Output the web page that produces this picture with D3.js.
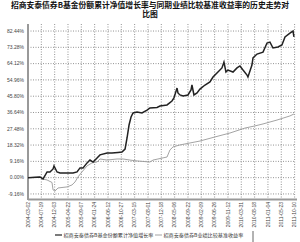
<!DOCTYPE html>
<html>
<head>
<meta charset="utf-8">
<script src="https://cdn.jsdelivr.net/npm/d3@7"></script>
<style>
  body { margin: 0; background: #fff; }
  svg { display: block; }
</style>
</head>
<body>
<svg width="300" height="242"></svg>
<script>
"use strict";

// time index (0..20 = tick positions) and cumulative return in %
const fundT = [0, 0.9, 1.13, 1.43, 1.65, 1.88, 1.95, 2.18, 2.4, 3.38, 3.68, 3.9, 4.13, 4.43, 4.65, 4.88, 5.18, 5.4, 5.93, 6.3, 6.75, 7.05, 7.28, 7.43, 7.58, 7.73, 7.88, 8.18, 8.55, 8.93, 9.15, 9.68, 9.9, 10.43, 10.8, 10.95, 11.18, 11.25, 11.4, 11.63, 12.0, 12.23, 12.3, 12.45, 12.68, 12.9, 13.28, 13.65, 13.88, 14.25, 14.55, 14.7, 14.85, 15.0, 15.38, 15.68, 15.9, 16.13, 16.43, 16.5, 16.8, 16.88, 17.18, 17.63, 17.93, 18.15, 18.38, 18.75, 19.05, 19.28, 19.65, 19.88, 19.95];
const fundV = [0, 0.4, -0.7, 3.2, 3.2, 4.9, 6.6, 3.2, 2.6, 2.6, 3.2, 5.5, 5.5, 8.3, 9.9, 8.8, 11.1, 12.8, 13.9, 13.9, 14.2, 14.4, 16.1, 22.3, 29.6, 34.1, 36.4, 36.9, 36.4, 38.0, 39.2, 39.5, 40.3, 40.9, 43.1, 44.8, 50.4, 47.6, 46.5, 45.9, 46.5, 49.3, 52.1, 46.5, 47.6, 49.8, 52.1, 53.8, 56.6, 59.4, 61.7, 65.0, 59.4, 60.5, 59.4, 61.7, 62.8, 60.5, 57.7, 56.6, 63.3, 67.3, 69.5, 70.6, 75.7, 76.2, 72.9, 73.5, 74.6, 79.1, 81.3, 82.4, 79.1];

const benchT = [0, 0.9, 1.05, 1.43, 1.8, 1.88, 2.03, 2.25, 2.93, 3.3, 3.53, 3.75, 4.05, 4.43, 4.8, 5.18, 5.4, 5.93, 6.68, 7.13, 7.65, 8.18, 9.15, 9.38, 10.43, 10.65, 10.88, 11.4, 12.15, 12.9, 14.03, 15.15, 16.28, 17.03, 17.63, 18.68, 19.65, 19.95];
const benchV = [0, 0.4, -0.7, -1.3, -2.7, -6.9, -7.5, -5.8, -5.2, -4.1, -2.4, 0.4, 3.2, 6.6, 8.3, 8.8, 10.5, 9.9, 10.5, 10.5, 9.9, 9.4, 8.8, 9.9, 11.6, 15.6, 17.3, 18.4, 19.5, 20.6, 22.9, 25.1, 27.9, 29.1, 30.2, 32.4, 34.7, 35.8];

const xLabels = ["2004-03-02", "2004-07-19", "2004-12-03", "2005-04-22", "2005-09-07", "2006-01-24", "2006-06-12", "2006-10-27", "2007-03-15", "2007-08-01", "2007-12-18", "2008-05-06", "2008-09-22", "2009-02-09", "2009-06-26", "2009-11-12", "2010-03-31", "2010-08-18", "2011-01-04", "2011-05-23", "2011-10-10"];
const yTicks = [-9.16, 0, 9.16, 18.32, 27.48, 36.64, 45.80, 54.96, 64.12, 73.28, 82.44];

const titleLines = ["招商安泰债券B基金份额累计净值增长率与同期业绩比较基准收益率的历史走势对", "比图"];
const legendNames = ["招商安泰债券B基金份额累计净值增长率", "招商安泰债券B业绩比较基准收益率"];

const svg = d3.select("svg");
const plotL = 28, plotR = 294.6, plotT = 24, plotB = 199;

const x = d3.scaleLinear().domain([0, 20]).range([plotL, plotR]);
const y = d3.scaleLinear().domain([-12, 86.4]).range([plotB, plotT]);

// title
svg.selectAll(".title")
    .data(titleLines)
    .enter().append("text")
    .attr("x", 150)
    .attr("y", (d, i) => 7.5 + i * 9.5)
    .attr("text-anchor", "middle")
    .attr("font-family", "Noto Sans CJK SC")
    .attr("font-size", 7.8)
    .attr("font-weight", "bold")
    .attr("fill", "#111")
    .text(d => d);

// grid
svg.selectAll(".hgrid")
    .data(yTicks)
    .enter().append("line")
    .attr("x1", plotL).attr("x2", plotR)
    .attr("y1", d => y(d)).attr("y2", d => y(d))
    .attr("stroke", "#777").attr("stroke-width", 0.8)
    .attr("stroke-dasharray", "1,1.5");

svg.selectAll(".vgrid")
    .data(d3.range(1, xLabels.length))
    .enter().append("line")
    .attr("x1", d => x(d)).attr("x2", d => x(d))
    .attr("y1", plotT).attr("y2", plotB)
    .attr("stroke", "#777").attr("stroke-width", 0.8)
    .attr("stroke-dasharray", "1,1.5");

// axes
svg.append("line")
    .attr("x1", plotL).attr("x2", plotL).attr("y1", plotT).attr("y2", plotB + 1)
    .attr("stroke", "#999").attr("stroke-width", 2);
svg.append("line")
    .attr("x1", plotL).attr("x2", 297).attr("y1", plotB + 0.5).attr("y2", plotB + 0.5)
    .attr("stroke", "#999").attr("stroke-width", 2);

// y labels
svg.selectAll(".ylab")
    .data(yTicks)
    .enter().append("text")
    .attr("x", 24)
    .attr("y", d => y(d) + 1.8)
    .attr("text-anchor", "end")
    .attr("font-family", "Liberation Sans")
    .attr("font-size", 5)
    .attr("fill", "#444")
    .text(d => d.toFixed(2) + "%");

// x labels
svg.selectAll(".xlab")
    .data(xLabels)
    .enter().append("text")
    .attr("transform", (d, i) => `translate(${x(i) + 1.8},${plotB + 3}) rotate(-90)`)
    .attr("text-anchor", "end")
    .attr("font-family", "Liberation Sans")
    .attr("font-size", 5)
    .attr("fill", "#444")
    .text(d => d);

// series
const line = d3.line().x(d => x(d[0])).y(d => y(d[1]));

svg.append("path")
    .datum(d3.zip(benchT, benchV))
    .attr("d", line)
    .attr("fill", "none")
    .attr("stroke", "#999")
    .attr("stroke-width", 0.9);

svg.append("path")
    .datum(d3.zip(fundT, fundV))
    .attr("d", line)
    .attr("fill", "none")
    .attr("stroke", "#222")
    .attr("stroke-width", 1.5);

// legend
const legendX = [55, 155];
const legendColors = ["#222", "#999"];
const lg = svg.selectAll(".legend")
    .data(legendNames)
    .enter().append("g")
    .attr("transform", (d, i) => `translate(${legendX[i]},235)`);
lg.append("line")
    .attr("x1", 0).attr("x2", 7)
    .attr("stroke", (d, i) => legendColors[i])
    .attr("stroke-width", (d, i) => i === 0 ? 1.2 : 0.9);
lg.append("text")
    .attr("x", 8.5)
    .attr("y", 1.8)
    .attr("font-family", "Noto Sans CJK SC")
    .attr("font-size", 5.1)
    .attr("fill", "#333")
    .text(d => d);
svg.append("line")
    .attr("x1", 253).attr("x2", 253).attr("y1", 231).attr("y2", 242)
    .attr("stroke", "#666").attr("stroke-width", 1);
</script>
</body>
</html>
